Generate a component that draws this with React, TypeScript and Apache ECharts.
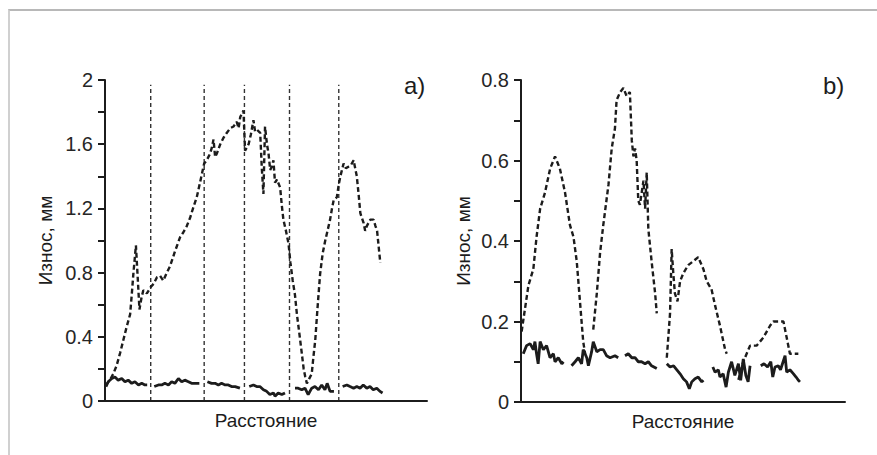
import React, { useEffect, useRef } from "react";
import * as echarts from "echarts";

// ---------- Panel a) ----------
const aYMax = 2;
const aYTicks = [0, 0.4, 0.8, 1.2, 1.6, 2];
const aBoundaries = [14.2, 30.8, 43.3, 57.3, 72.6];

const aDashed: [number, number][] = [
  [0.3, 0.1], [1.5, 0.13], [2.6, 0.17], [3.6, 0.22], [4.7, 0.3], [5.7, 0.38], [6.7, 0.46], [7.8, 0.54],
  [8.3, 0.66], [8.8, 0.79], [9.2, 0.88], [9.6, 0.97], [10.1, 0.79], [10.7, 0.57], [11.3, 0.64],
  [11.9, 0.69], [13.0, 0.67], [14.2, 0.71], [15.1, 0.73], [16.1, 0.77], [17.1, 0.78], [18.1, 0.75],
  [19.2, 0.8], [20.2, 0.84], [21.7, 0.93], [23.3, 1.02], [24.3, 1.05], [25.4, 1.09], [26.4, 1.14],
  [27.5, 1.21], [28.5, 1.27], [29.5, 1.36], [30.8, 1.48], [31.6, 1.5], [32.6, 1.54], [33.2, 1.58],
  [33.7, 1.63], [34.2, 1.52], [34.7, 1.54], [35.8, 1.6], [36.8, 1.64], [37.8, 1.67], [38.9, 1.7],
  [39.9, 1.71], [40.9, 1.74], [41.5, 1.7], [42.0, 1.77], [43.0, 1.81], [43.5, 1.56], [44.6, 1.6],
  [45.3, 1.66], [46.1, 1.75], [46.6, 1.68], [47.2, 1.69], [48.2, 1.67], [48.7, 1.45], [49.2, 1.29],
  [49.7, 1.71], [50.3, 1.6], [50.8, 1.54], [51.3, 1.44], [51.8, 1.46], [52.3, 1.5], [52.8, 1.36],
  [53.4, 1.38], [54.4, 1.33], [54.9, 1.22], [55.4, 1.13], [56.2, 1.06], [57.0, 0.98], [57.6, 0.86],
  [58.3, 0.75], [59.0, 0.66], [59.6, 0.54], [60.3, 0.43], [61.1, 0.3], [61.7, 0.2], [62.2, 0.15],
  [62.7, 0.11], [63.2, 0.13], [64.2, 0.17], [64.7, 0.27], [65.3, 0.38], [66.0, 0.58], [66.8, 0.79],
  [67.6, 0.92], [68.4, 1.0], [69.1, 1.06], [69.9, 1.13], [70.5, 1.2], [71.0, 1.25], [72.0, 1.27],
  [72.6, 1.35], [73.1, 1.4], [74.1, 1.48], [74.8, 1.45], [75.6, 1.46], [76.4, 1.47], [77.2, 1.5],
  [78.2, 1.4], [78.8, 1.28], [79.3, 1.17], [80.3, 1.11], [80.8, 1.06], [81.3, 1.09], [82.4, 1.13],
  [83.4, 1.13], [84.0, 1.09], [84.5, 1.06], [85.0, 0.96], [85.5, 0.86]
];

const aSolid: [number, number][][] = [
  [[0.3, 0.09], [1.0, 0.12], [2.1, 0.14], [3.1, 0.15], [4.1, 0.13], [5.2, 0.14], [6.2, 0.12], [7.2, 0.13],
   [8.3, 0.11], [9.3, 0.12], [10.4, 0.1], [11.4, 0.11], [12.4, 0.1], [13.1, 0.1]],
  [[15.3, 0.09], [16.6, 0.1], [17.6, 0.1], [18.6, 0.11], [19.7, 0.1], [20.7, 0.12], [21.7, 0.11],
   [22.8, 0.14], [23.8, 0.12], [24.8, 0.13], [25.9, 0.12], [26.9, 0.11], [28.0, 0.11], [29.3, 0.11]],
  [[31.8, 0.12], [33.1, 0.11], [34.2, 0.11], [35.2, 0.1], [36.2, 0.11], [37.3, 0.1], [38.3, 0.1],
   [39.3, 0.09], [40.4, 0.09], [41.9, 0.08]],
  [[44.8, 0.09], [46.1, 0.1], [47.1, 0.09], [48.1, 0.09], [49.2, 0.07], [50.2, 0.06], [51.2, 0.04],
   [52.3, 0.05], [52.8, 0.03], [53.8, 0.05], [54.9, 0.04], [55.9, 0.05]],
  [[59.0, 0.08], [60.0, 0.08], [61.1, 0.07], [62.1, 0.08], [63.1, 0.04], [64.2, 0.08], [65.2, 0.09],
   [66.3, 0.07], [67.3, 0.1], [68.3, 0.07], [69.0, 0.11], [69.9, 0.06], [71.1, 0.06]],
  [[73.8, 0.09], [75.1, 0.1], [76.1, 0.09], [77.2, 0.08], [78.2, 0.09], [79.2, 0.08], [80.2, 0.1],
   [81.3, 0.08], [82.3, 0.09], [83.3, 0.07], [84.4, 0.08], [85.4, 0.06], [86.2, 0.05]]
];

// ---------- Panel b) ----------
const bYMax = 0.8;
const bYTicks = [0, 0.2, 0.4, 0.6, 0.8];

const bDashed: [number, number][][] = [
  [[0.2, 0.175], [1.2, 0.23], [2.3, 0.29], [3.8, 0.33], [4.8, 0.41], [5.9, 0.48], [7.4, 0.52],
   [9.0, 0.58], [10.5, 0.61], [12.0, 0.58], [13.6, 0.52], [15.1, 0.44], [16.2, 0.41], [17.2, 0.35],
   [18.2, 0.25], [19.2, 0.15], [19.8, 0.12]],
  [[22.3, 0.18], [23.4, 0.27], [24.4, 0.37], [25.4, 0.44], [27.0, 0.54], [28.0, 0.63], [29.0, 0.68],
   [29.5, 0.75], [30.6, 0.77], [31.6, 0.78], [32.6, 0.76], [33.6, 0.77], [34.2, 0.65], [34.7, 0.61],
   [35.2, 0.63], [35.7, 0.6], [36.2, 0.5], [36.7, 0.49], [37.8, 0.55], [38.3, 0.48], [38.8, 0.57],
   [39.3, 0.43], [40.3, 0.35], [41.4, 0.27], [41.9, 0.22]],
  [[45.0, 0.11], [46.0, 0.22], [46.5, 0.38], [47.0, 0.32], [47.5, 0.27], [48.3, 0.25], [49.1, 0.3],
   [50.1, 0.32], [51.6, 0.34], [53.2, 0.35], [54.7, 0.36], [56.3, 0.33], [57.3, 0.3], [58.8, 0.28],
   [59.9, 0.24], [61.4, 0.19], [63.0, 0.13], [63.5, 0.12]],
  [[67.1, 0.055], [68.6, 0.1], [70.7, 0.14], [72.7, 0.14], [74.8, 0.16], [76.9, 0.19], [77.9, 0.2],
   [79.4, 0.2], [81.0, 0.2], [82.0, 0.16], [83.0, 0.12], [85.6, 0.12]]
];

const bSolid: [number, number][][] = [
  [[0.7, 0.12], [1.7, 0.14], [2.8, 0.145], [3.8, 0.13], [4.3, 0.15], [4.8, 0.12], [5.3, 0.095],
   [5.9, 0.15], [6.9, 0.13], [7.9, 0.14], [8.95, 0.11], [10.0, 0.12], [10.5, 0.1], [11.5, 0.11],
   [12.6, 0.095], [13.1, 0.1]],
  [[15.6, 0.09], [16.7, 0.1], [17.7, 0.11], [18.7, 0.095], [19.2, 0.13], [20.3, 0.11], [20.8, 0.09],
   [21.8, 0.125], [22.3, 0.15], [23.4, 0.125], [24.4, 0.13], [25.4, 0.13], [26.4, 0.115], [27.5, 0.11],
   [29.0, 0.115], [30.0, 0.11]],
  [[32.1, 0.115], [33.1, 0.12], [34.2, 0.11], [35.2, 0.11], [36.2, 0.1], [37.2, 0.1], [38.3, 0.095],
   [39.3, 0.1], [40.3, 0.09], [41.9, 0.083]],
  [[45.0, 0.095], [46.0, 0.087], [47.1, 0.09], [48.1, 0.08], [49.1, 0.07], [50.1, 0.058], [51.1, 0.05],
   [51.95, 0.033], [52.7, 0.05], [53.7, 0.058], [54.7, 0.062], [55.8, 0.05], [56.3, 0.054]],
  [[59.2, 0.087], [59.9, 0.074], [60.9, 0.08], [61.4, 0.062], [62.4, 0.07], [63.3, 0.037], [64.0, 0.074],
   [65.0, 0.1], [66.0, 0.066], [67.1, 0.095], [67.8, 0.054], [68.6, 0.107], [69.4, 0.066], [70.1, 0.05],
   [70.7, 0.09]],
  [[74.0, 0.09], [75.0, 0.095], [76.1, 0.087], [77.1, 0.1], [77.7, 0.062], [78.4, 0.087], [79.4, 0.09],
   [80.1, 0.08], [80.9, 0.1], [81.5, 0.115], [82.0, 0.074], [83.0, 0.08], [84.1, 0.07], [84.9, 0.062],
   [85.6, 0.054], [86.1, 0.05]]
];

const X_MAX = 100;
const yAxisName = "Износ, мм";
const xAxisName = "Расстояние";
const panelLabels = ["a)", "b)"];

const FONT = "Arial, 'Liberation Sans', Helvetica, sans-serif";
const INK = "#1c1c1c";

export default function App() {
  const ref = useRef<HTMLDivElement>(null);

  useEffect(() => {
    if (!ref.current) return;
    const chart = echarts.init(ref.current, undefined, { renderer: "svg" });

    const makeYAxis = (gridIndex: number, max: number, tickStep: number, nameGap: number, ticks: number[]) => ({
      type: "value",
      gridIndex,
      min: 0,
      max,
      interval: tickStep,
      name: yAxisName,
      nameLocation: "middle",
      nameGap,
      nameTextStyle: { fontSize: 19, color: INK, fontFamily: FONT },
      axisLine: { show: true, lineStyle: { color: INK, width: 2 } },
      axisTick: { show: true, length: 7, lineStyle: { color: INK, width: 2 } },
      splitLine: { show: false },
      axisLabel: {
        fontSize: 20,
        color: "#262626",
        fontFamily: FONT,
        margin: 12,
        formatter: (v: number) => {
          const t = ticks.find((x) => Math.abs(x - v) < 1e-9);
          return t === undefined ? "" : String(t);
        }
      }
    });

    const makeXAxis = (gridIndex: number) => ({
      type: "value",
      gridIndex,
      min: 0,
      max: X_MAX,
      name: xAxisName,
      nameLocation: "middle",
      nameGap: 10,
      nameTextStyle: { fontSize: 19, color: INK, fontFamily: FONT, verticalAlign: "top" },
      axisLine: { show: true, lineStyle: { color: INK, width: 2 } },
      axisTick: { show: false },
      axisLabel: { show: false },
      splitLine: { show: false }
    });

    const series: any[] = [];

    // axis frame lines, drawn through the axes' own scales
    const frame = (idx: number, yMax: number) => {
      series.push({
        type: "line", xAxisIndex: idx, yAxisIndex: idx, data: [[0, 0], [X_MAX, 0]], symbol: "none",
        silent: true, clip: false, z: 5, lineStyle: { color: INK, width: 2 }
      });
      series.push({
        type: "line", xAxisIndex: idx, yAxisIndex: idx, data: [[0, 0], [0, yMax]], symbol: "none",
        silent: true, clip: false, z: 5, lineStyle: { color: INK, width: 2 }
      });
    };
    frame(0, aYMax);
    frame(1, bYMax);

    aBoundaries.forEach((b) =>
      series.push({
        type: "line", xAxisIndex: 0, yAxisIndex: 0, data: [[b, 0], [b, 1.97]], symbol: "none", silent: true,
        lineStyle: { color: "#333", width: 1.4, type: [4, 3] }
      })
    );
    series.push({
      type: "line", xAxisIndex: 0, yAxisIndex: 0, data: aDashed, symbol: "none",
      lineStyle: { color: INK, width: 2.4, type: [5, 3] }
    });
    aSolid.forEach((s) =>
      series.push({ type: "line", xAxisIndex: 0, yAxisIndex: 0, data: s, symbol: "none", lineStyle: { color: INK, width: 2.8 } })
    );
    bDashed.forEach((s) =>
      series.push({
        type: "line", xAxisIndex: 1, yAxisIndex: 1, data: s, symbol: "none",
        lineStyle: { color: INK, width: 2.4, type: [5, 3] }
      })
    );
    bSolid.forEach((s) =>
      series.push({ type: "line", xAxisIndex: 1, yAxisIndex: 1, data: s, symbol: "none", lineStyle: { color: INK, width: 2.8 } })
    );

    chart.setOption({
      animation: false,
      backgroundColor: "#ffffff",
      title: [
        { text: panelLabels[0], left: 404, top: 73, padding: 0, textStyle: { fontSize: 24, fontWeight: "normal", color: INK, fontFamily: FONT } },
        { text: panelLabels[1], left: 823, top: 73, padding: 0, textStyle: { fontSize: 24, fontWeight: "normal", color: INK, fontFamily: FONT } }
      ],
      grid: [
        { left: 105, top: 80, width: 322, height: 321 },
        { left: 521, top: 80, width: 324, height: 322 }
      ],
      xAxis: [makeXAxis(0), makeXAxis(1)],
      yAxis: [makeYAxis(0, aYMax, 0.2, 50, aYTicks), makeYAxis(1, bYMax, 0.1, 48, bYTicks)],
      series
    });

    return () => chart.dispose();
  }, []);

  return (
    <div style={{ position: "fixed", left: 0, top: 0, width: 877, height: 455, background: "#fff" }}>
      <div ref={ref} style={{ position: "absolute", left: 0, top: 0, width: 877, height: 455 }} />
      <div
        style={{
          position: "absolute",
          left: 8,
          top: 9,
          width: 869,
          height: 446,
          borderTop: "2px solid #b8b8b8",
          borderLeft: "2px solid #d0d0d0",
          boxSizing: "border-box",
          pointerEvents: "none"
        }}
      />
    </div>
  );
}
